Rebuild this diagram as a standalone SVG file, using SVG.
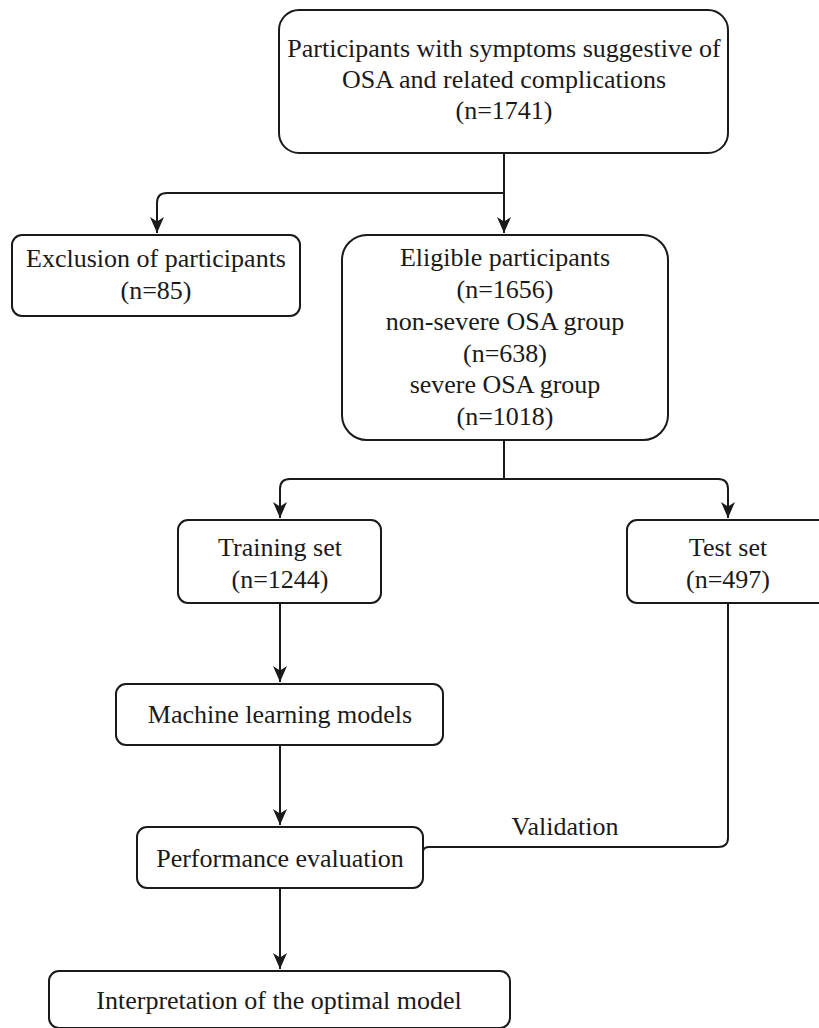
<svg xmlns="http://www.w3.org/2000/svg" width="819" height="1028" viewBox="0 0 819 1028">
<style>
.box{fill:#fff;stroke:#1a1a1a;stroke-width:2}
.t{font-family:"Liberation Serif","Times New Roman",serif;font-size:26px;fill:#1a1a1a;text-anchor:middle}
.c{fill:none;stroke:#1a1a1a;stroke-width:2}
</style>
<defs>
<marker id="ah" viewBox="0 0 16 14" refX="16" refY="7" markerWidth="16" markerHeight="14" markerUnits="userSpaceOnUse" orient="auto">
<path d="M0,0 L16,7 L0,14 L4.5,7 z" fill="#1a1a1a"/>
</marker>
</defs>
<rect width="819" height="1028" fill="#fff"/>
<g id="connectors">
<path class="c" d="M504,153 V233" marker-end="url(#ah)"/>
<path class="c" d="M504,193 H167 Q157,193 157,203 V233" marker-end="url(#ah)"/>
<path class="c" d="M504,440 V479 H290 Q280,479 280,489 V518" marker-end="url(#ah)"/>
<path class="c" d="M504,479 H718 Q728,479 728,489 V518" marker-end="url(#ah)"/>
<path class="c" d="M280,603 V682" marker-end="url(#ah)"/>
<path class="c" d="M280,745 V825" marker-end="url(#ah)"/>
<path class="c" d="M728,603 V838 Q728,847 718,847 H429 Q424,847 423,851"/>
<path class="c" d="M280,888 V969" marker-end="url(#ah)"/>
<text class="t" x="565" y="835">Validation</text>
</g>
<g id="n-top">
<rect class="box" x="279" y="10" width="449" height="143" rx="20"/>
<text class="t" x="504" y="57">Participants with symptoms suggestive of</text>
<text class="t" x="504" y="88">OSA and related complications</text>
<text class="t" x="504" y="119">(n=1741)</text>
</g>
<g id="n-exclusion">
<rect class="box" x="12" y="235" width="288" height="81" rx="10"/>
<text class="t" x="156" y="267">Exclusion of participants</text>
<text class="t" x="156" y="299">(n=85)</text>
</g>
<g id="n-eligible">
<rect class="box" x="342" y="235" width="326" height="205" rx="25"/>
<text class="t" x="505" y="266">Eligible participants</text>
<text class="t" x="505" y="298">(n=1656)</text>
<text class="t" x="505" y="330">non-severe OSA group</text>
<text class="t" x="505" y="362">(n=638)</text>
<text class="t" x="505" y="393">severe OSA group</text>
<text class="t" x="505" y="425">(n=1018)</text>
</g>
<g id="n-training">
<rect class="box" x="178" y="520" width="203" height="83" rx="10"/>
<text class="t" x="280" y="556">Training set</text>
<text class="t" x="280" y="588">(n=1244)</text>
</g>
<g id="n-test">
<rect class="box" x="627" y="520" width="206" height="83" rx="10"/>
<text class="t" x="728" y="556">Test set</text>
<text class="t" x="728" y="588">(n=497)</text>
</g>
<g id="n-ml">
<rect class="box" x="116" y="684" width="327" height="61" rx="10"/>
<text class="t" x="280" y="723">Machine learning models</text>
</g>
<g id="n-perf">
<rect class="box" x="137" y="827" width="286" height="61" rx="10"/>
<text class="t" x="280" y="867">Performance evaluation</text>
</g>
<g id="n-interp">
<rect class="box" x="49" y="971" width="461" height="57" rx="10"/>
<text class="t" x="279" y="1009">Interpretation of the optimal model</text>
</g>
</svg>
